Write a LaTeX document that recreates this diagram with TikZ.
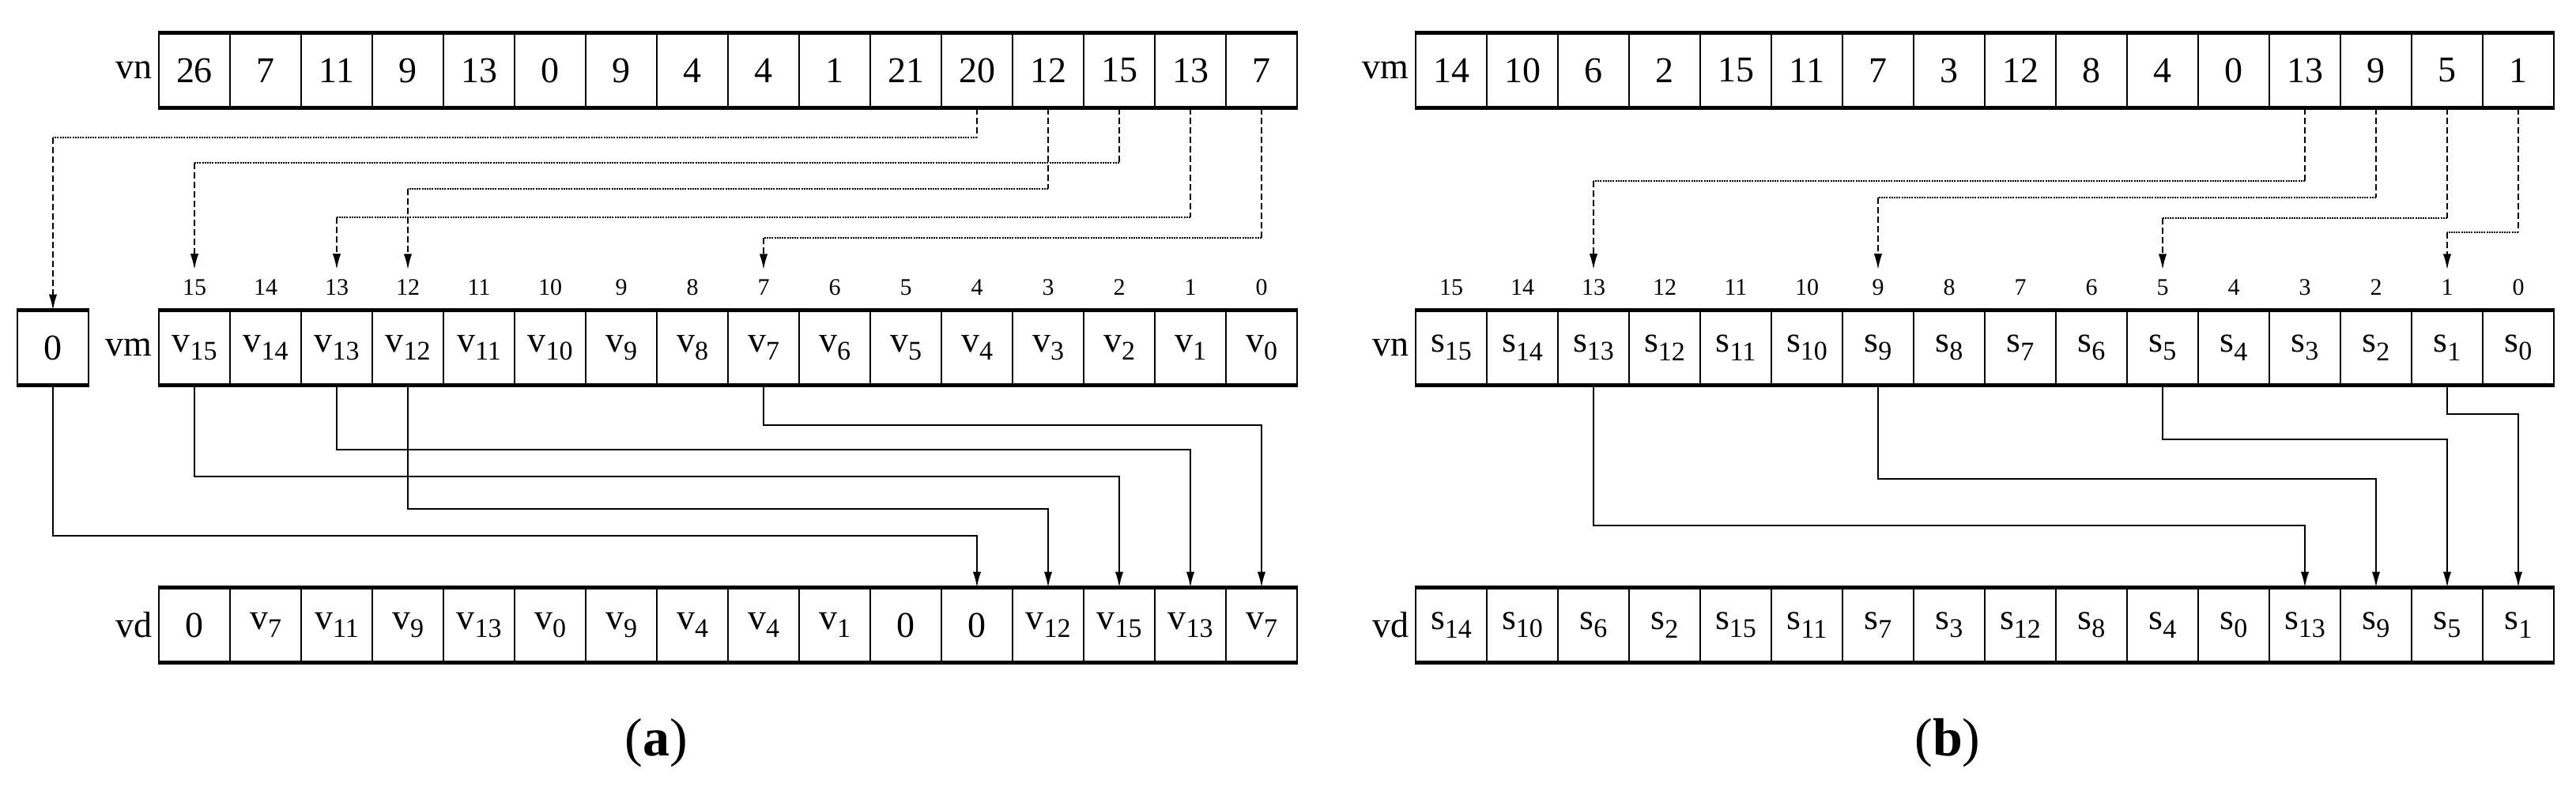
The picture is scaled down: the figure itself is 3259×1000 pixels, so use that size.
\documentclass[tikz,border=0pt]{standalone}
\usepackage{fontspec}
\setmainfont{Liberation Serif}
\usetikzlibrary{arrows.meta}
\newcommand\sbs[2]{#1\raisebox{-0.5ex}{\fontsize{8.5}{8.5}\selectfont #2}}
\begin{document}
\begin{tikzpicture}[x=0.25pt,y=-0.25pt,
  cell/.style={draw,line width=0.5pt,minimum width=22.5pt,minimum height=23.25pt,inner sep=0pt,font=\fontsize{11.5}{11.5}\selectfont},
  idx/.style={font=\fontsize{7.5}{7.5}\selectfont,inner sep=0pt},
  lab/.style={font=\fontsize{11.5}{11.5}\selectfont,anchor=east,inner sep=0pt},
  dv/.style={line width=0.5pt,dash pattern=on 2pt off 1pt},
  dh/.style={line width=0.6pt,dash pattern=on 0.5pt off 0.3pt},
  tip/.style={-{Latex[length=5pt,width=2.6pt]}},
  sl/.style={line width=0.55pt},
  edge/.style={line width=1.1pt}]
\useasboundingbox (0,0) rectangle (3259,1000);
% ---------- panel a
\foreach \t [count=\i from 0] in {26,7,11,9,13,0,9,4,4,1,21,20,12,15,13,7}
  \node[cell] (avn-\i) at (246+90*\i,89) {\t};
\foreach \t [count=\i from 0] in {\sbs{v}{15},\sbs{v}{14},\sbs{v}{13},\sbs{v}{12},\sbs{v}{11},\sbs{v}{10},\sbs{v}{9},\sbs{v}{8},\sbs{v}{7},\sbs{v}{6},\sbs{v}{5},\sbs{v}{4},\sbs{v}{3},\sbs{v}{2},\sbs{v}{1},\sbs{v}{0}}
  \node[cell] (avm-\i) at (246+90*\i,440) {\t};
\foreach \t [count=\i from 0] in {0,\sbs{v}{7},\sbs{v}{11},\sbs{v}{9},\sbs{v}{13},\sbs{v}{0},\sbs{v}{9},\sbs{v}{4},\sbs{v}{4},\sbs{v}{1},0,0,\sbs{v}{12},\sbs{v}{15},\sbs{v}{13},\sbs{v}{7}}
  \node[cell] (avd-\i) at (246+90*\i,791) {\t};
\foreach \i in {0,...,15} {
  \pgfmathtruncatemacro\k{15-\i}
  \node[idx] (aix-\i) at (246+90*\i,364) {\k};}
\foreach \r in {avn,avm,avd} {
  \draw[edge] (\r-0.north west) -- (\r-15.north east);
  \draw[edge] (\r-0.south west) -- (\r-15.south east);}
\node[cell] (zero) at (67,440) {0};
\draw[edge] (zero.north west) -- (zero.north east);
\draw[edge] (zero.south west) -- (zero.south east);
\node[lab] (alvn) at (193,89) {vn};
\node[lab] (alvm) at (193,440) {vm};
\node[lab] (alvd) at (193,791) {vd};
% dashed a
\foreach \s/\l/\t in {13/206/0,12/239/3,14/275/2,15/301/8} {
  \draw[dv] (avn-\s.south) -- (avn-\s.south |- 0,\l);
  \draw[dh] (avn-\s.south |- 0,\l) -- (aix-\t |- 0,\l);
  \draw[dv,tip] (aix-\t |- 0,\l) -- ([yshift=3pt]aix-\t.north);}
\draw[dv] (avn-11.south) -- (avn-11.south |- 0,174);
\draw[dh] (avn-11.south |- 0,174) -- (zero.north |- 0,174);
\draw[dv,tip] (zero.north |- 0,174) -- (zero.north);
% solid a
\foreach \s/\l/\t in {8/538/15,2/569/14,0/603/13,3/644/12}
  \draw[sl,tip] (avm-\s.south) |- (avd-\t.north |- 0,\l) -- (avd-\t.north);
\draw[sl,tip] (zero.south) |- (avd-11.north |- 0,678) -- (avd-11.north);
\node[font=\fontsize{17}{17}\selectfont] (capa) at (830,940) {(\textbf{a})};
% ---------- panel b
\foreach \t [count=\i from 0] in {14,10,6,2,15,11,7,3,12,8,4,0,13,9,5,1}
  \node[cell] (bvm-\i) at (1836+90*\i,89) {\t};
\foreach \t [count=\i from 0] in {\sbs{s}{15},\sbs{s}{14},\sbs{s}{13},\sbs{s}{12},\sbs{s}{11},\sbs{s}{10},\sbs{s}{9},\sbs{s}{8},\sbs{s}{7},\sbs{s}{6},\sbs{s}{5},\sbs{s}{4},\sbs{s}{3},\sbs{s}{2},\sbs{s}{1},\sbs{s}{0}}
  \node[cell] (bvn-\i) at (1836+90*\i,440) {\t};
\foreach \t [count=\i from 0] in {\sbs{s}{14},\sbs{s}{10},\sbs{s}{6},\sbs{s}{2},\sbs{s}{15},\sbs{s}{11},\sbs{s}{7},\sbs{s}{3},\sbs{s}{12},\sbs{s}{8},\sbs{s}{4},\sbs{s}{0},\sbs{s}{13},\sbs{s}{9},\sbs{s}{5},\sbs{s}{1}}
  \node[cell] (bvd-\i) at (1836+90*\i,791) {\t};
\foreach \i in {0,...,15} {
  \pgfmathtruncatemacro\k{15-\i}
  \node[idx] (bix-\i) at (1836+90*\i,364) {\k};}
\foreach \r in {bvm,bvn,bvd} {
  \draw[edge] (\r-0.north west) -- (\r-15.north east);
  \draw[edge] (\r-0.south west) -- (\r-15.south east);}
\node[lab] (blvm) at (1783,89) {vm};
\node[lab] (blvn) at (1783,440) {vn};
\node[lab] (blvd) at (1783,791) {vd};
\foreach \s/\l/\t in {12/229/2,13/250/6,14/276/10,15/294/14} {
  \draw[dv] (bvm-\s.south) -- (bvm-\s.south |- 0,\l);
  \draw[dh] (bvm-\s.south |- 0,\l) -- (bix-\t |- 0,\l);
  \draw[dv,tip] (bix-\t |- 0,\l) -- ([yshift=3pt]bix-\t.north);}
\foreach \s/\l/\t in {2/665/12,6/606/13,10/556/14,14/524/15}
  \draw[sl,tip] (bvn-\s.south) |- (bvd-\t.north |- 0,\l) -- (bvd-\t.north);
\node[font=\fontsize{17}{17}\selectfont] (capb) at (2464,940) {(\textbf{b})};
\end{tikzpicture}
\end{document}
